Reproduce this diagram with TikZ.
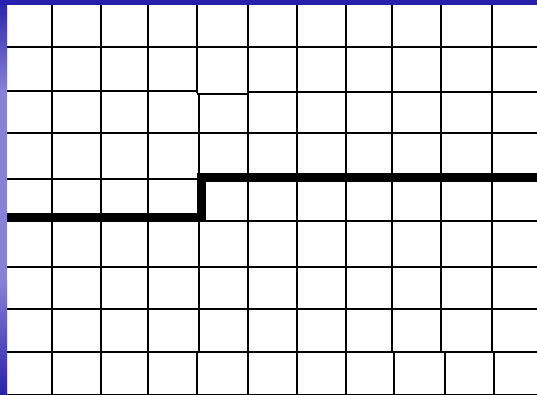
\documentclass[tikz,border=0pt]{standalone}
\definecolor{slideBlue}{RGB}{40, 32, 172}
\definecolor{slideLight}{RGB}{135, 130, 214}
\usepackage{tikz}
\usetikzlibrary{calc}

\begin{document}
\begin{tikzpicture}[
    x=1pt, y=-1pt,
    gridline/.style={black, line width=1.7pt},
    stepline/.style={black, line width=9.5pt, miter limit=10},
  ]
    \useasboundingbox (0,0) rectangle (537,395);
    \fill[white] (0,0) rectangle (537,395);
    % horizontal grid lines
    \foreach \y in {47, 133, 267, 309, 352, 394.5}
      \draw[gridline] (7,\y) -- (537,\y);
    \draw[gridline] (7,91) -- (197,91);
    \draw[gridline] (197,94) -- (248,94);
    \draw[gridline] (248,92) -- (537,92);
    \draw[gridline] (7,179) -- (197,179);
    \draw[gridline] (197,221) -- (537,221);
    % vertical grid lines
    \foreach \x in {52, 101, 148, 248, 297, 346, 392, 441, 492}
      \draw[gridline] (\x,5) -- (\x,352);
    \draw[gridline] (197,5) -- (197,93);
    \draw[gridline] (199,93) -- (199,352);
    \foreach \x in {52, 101, 148, 197, 248, 297, 346, 394, 445, 494}
      \draw[gridline] (\x,352) -- (\x,395);
    % step
    \draw[stepline] (7,217.5) -- (201.5,217.5) -- (201.5,177.5) -- (537,177.5);
    % slide frame
    \shade[top color=slideBlue, bottom color=slideLight] (0,0) rectangle (7,90);
    \fill[slideLight] (0,89.5) rectangle (7,280.5);
    \shade[top color=slideLight, bottom color=slideBlue] (0,280) rectangle (7,395);
    \fill[slideBlue] (0,0) rectangle (537,5.5);
  \end{tikzpicture}
\end{document}
